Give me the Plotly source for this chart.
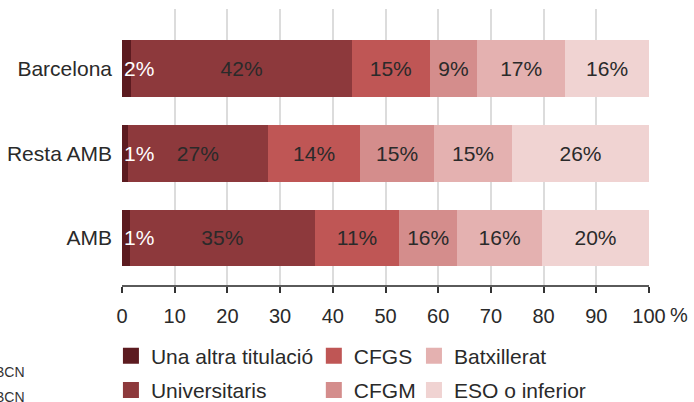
import plotly.graph_objects as go

# ---- data ----
categories = ["Barcelona", "Resta AMB", "AMB"]
series_names = ["Una altra titulació", "Universitaris", "CFGS", "CFGM", "Batxillerat", "ESO o inferior"]

una_altra = [1.8, 1.1, 1.5]
universitaris = [41.8, 26.6, 35.1]
cfgs = [14.8, 17.5, 16.0]
cfgm = [9.0, 14.0, 11.0]
batxillerat = [16.7, 14.8, 16.1]
eso = [15.9, 26.0, 20.3]

# labels printed on the bars
una_altra_lbl = [2, 1, 1]
universitaris_lbl = [42, 27, 35]
cfgs_lbl = [15, 14, 11]
cfgm_lbl = [9, 15, 16]
batxillerat_lbl = [17, 15, 16]
eso_lbl = [16, 26, 20]

tick_values = [0, 10, 20, 30, 40, 50, 60, 70, 80, 90, 100]
tick_labels = ["0", "10", "20", "30", "40", "50", "60", "70", "80", "90", "100"]

colors = ["#5c1b20", "#8d393c", "#bf5655", "#d48d8c", "#e4b1b0", "#f0d3d2"]

values = [una_altra, universitaris, cfgs, cfgm, batxillerat, eso]
labels = [una_altra_lbl, universitaris_lbl, cfgs_lbl, cfgm_lbl, batxillerat_lbl, eso_lbl]

FONT = "Liberation Sans, Arial, Helvetica, sans-serif"
TXT = "#2a2a2a"

fig = go.Figure()
for i, (name, vals, lbls, col) in enumerate(zip(series_names, values, labels, colors)):
    fig.add_trace(go.Bar(
        y=categories, x=vals, orientation="h", name=name,
        marker=dict(color=col, line=dict(width=0)),
        width=0.67,
        text=[f"{v}%" for v in lbls] if i > 0 else None,
        textposition="inside" if i > 0 else "none",
        insidetextanchor="middle",
        textfont=dict(family=FONT, size=21, color=TXT),
        constraintext="none",
        showlegend=False, hoverinfo="skip",
    ))

# legend proxies (larger square swatches), in three columns
legend_of = ["legend", "legend", "legend2", "legend2", "legend3", "legend3"]
for name, col, lg in zip(series_names, colors, legend_of):
    fig.add_trace(go.Scatter(
        x=[None], y=[None], mode="markers", name=name,
        marker=dict(symbol="square", size=20, color=col, line=dict(width=0)),
        legend=lg, legendgroup=name, showlegend=True,
    ))

annotations = []
# labels of the thin first segment (white, left aligned at the bar base)
for cat, lbl in zip(categories, una_altra_lbl):
    annotations.append(dict(
        x=0, y=cat, xref="x", yref="y", text=f"{lbl}%", showarrow=False,
        xanchor="left", yanchor="middle", xshift=0,
        font=dict(family=FONT, size=21, color="white"),
    ))
# "%" unit after the last tick label
annotations.append(dict(
    x=100, y=-0.109, xref="x", yref="paper", text="%", showarrow=False,
    xanchor="left", yanchor="middle", xshift=19,
    font=dict(family=FONT, size=20, color=TXT),
))
# cut-off source text at the bottom left
for yy in [-0.315, -0.405]:
    annotations.append(dict(
        x=-0.181, y=yy, xref="paper", yref="paper", text="BCN", showarrow=False,
        xanchor="right", yanchor="middle",
        font=dict(family=FONT, size=14, color="#333333"),
    ))

leg_common = dict(orientation="v", xanchor="left", yanchor="top", yref="paper",
                  bgcolor="rgba(0,0,0,0)", borderwidth=0,
                  font=dict(family=FONT, size=21, color=TXT), tracegroupgap=4,
                  itemclick=False, itemdoubleclick=False)

fig.update_layout(
    width=694, height=402,
    margin=dict(l=122, r=45, t=9, b=117, autoexpand=False),
    paper_bgcolor="white", plot_bgcolor="white",
    barmode="stack",
    font=dict(family=FONT, size=21, color=TXT),
    xaxis=dict(
        range=[0, 100], tickmode="array", tickvals=tick_values, ticktext=tick_labels,
        showgrid=True, gridcolor="#dcdcdc", gridwidth=1.5,
        zeroline=False,
        showline=True, linecolor="#5a5a5a", linewidth=2,
        ticks="outside", ticklen=6, tickwidth=1.5, tickcolor="#333333",
        tickfont=dict(family=FONT, size=20, color=TXT),
        ticklabelstandoff=6,
    ),
    yaxis=dict(
        type="category", categoryorder="array", categoryarray=categories,
        range=[2.555, -0.70],
        showgrid=False, zeroline=False, showline=False, ticks="",
        tickfont=dict(family=FONT, size=21, color=TXT),
        ticklabelstandoff=9,
    ),
    legend=dict(x=-0.021, y=-0.183, **leg_common),
    legend2=dict(x=0.364, y=-0.183, **leg_common),
    legend3=dict(x=0.554, y=-0.183, **leg_common),
    annotations=annotations,
    showlegend=True,
)

fig.write_html("out.html", config={"displayModeBar": False},
               post_script="document.body.style.margin='0';document.body.style.padding='0';")
